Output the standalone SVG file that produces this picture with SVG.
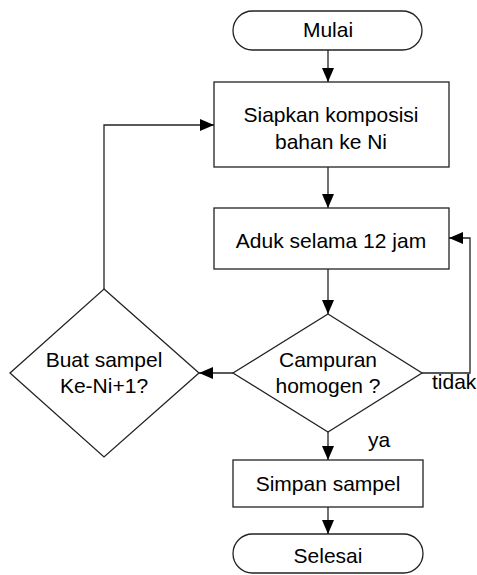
<svg xmlns="http://www.w3.org/2000/svg" width="477" height="575" viewBox="0 0 477 575">
<defs>
<marker id="ah" viewBox="0 0 14 12" refX="14" refY="6" markerWidth="14" markerHeight="12" markerUnits="userSpaceOnUse" orient="auto">
<path d="M0,0 L14,6 L0,12 Z" fill="#000"/>
</marker>
</defs>
<style>
.s{fill:#fff;stroke:#222;stroke-width:1.3}
.c{fill:none;stroke:#222;stroke-width:1.3;marker-end:url(#ah)}
.cn{fill:none;stroke:#222;stroke-width:1.3}
text{font-family:"Liberation Sans",Arial,sans-serif;font-size:21px;fill:#000;text-anchor:middle}
.l{text-anchor:start}
</style>
<rect width="477" height="575" fill="#fff"/>
<g id="connectors">
<path class="c" d="M328,50 V82"/>
<path class="c" d="M328,167 V208"/>
<path class="c" d="M328,269 V314"/>
<path class="c" d="M233,373 H199"/>
<path class="c" d="M422,373 H470 V238 H449"/>
<path class="c" d="M104,289 V125 H214"/>
<path class="c" d="M328,432 V460"/>
<path class="c" d="M328,507 V534"/>
<text class="l" x="432" y="389">tidak</text>
<text class="l" x="368" y="447">ya</text>
</g>
<g id="mulai">
<rect class="s" x="233" y="11" width="189" height="39" rx="19.5"/>
<text x="328" y="37">Mulai</text>
</g>
<g id="siapkan">
<rect class="s" x="214" y="82" width="235" height="85"/>
<text x="331" y="122">Siapkan komposisi</text>
<text x="331" y="149">bahan ke Ni</text>
</g>
<g id="aduk">
<rect class="s" x="214" y="208" width="235" height="61"/>
<text x="331" y="248">Aduk selama 12 jam</text>
</g>
<g id="campuran">
<path class="s" d="M328,314 L422,373 L328,432 L233,373 Z"/>
<text x="328" y="367">Campuran</text>
<text x="328" y="393">homogen ?</text>
</g>
<g id="buat">
<path class="s" d="M104,289 L199,373 L104,457 L10,373 Z"/>
<text x="104" y="367">Buat sampel</text>
<text x="104" y="393">Ke-Ni+1?</text>
</g>
<g id="simpan">
<rect class="s" x="233" y="460" width="190" height="47"/>
<text x="328" y="491">Simpan sampel</text>
</g>
<g id="selesai">
<rect class="s" x="233" y="534" width="190" height="39" rx="19.5"/>
<text x="328" y="563">Selesai</text>
</g>
</svg>
